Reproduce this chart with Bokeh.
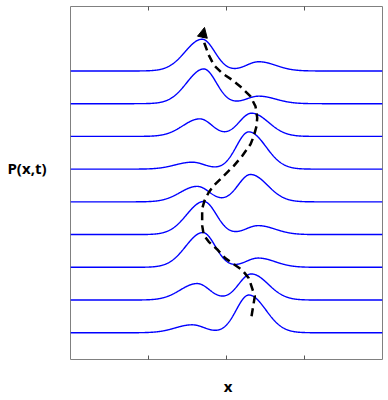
import numpy as np
from bokeh.plotting import figure
from bokeh.models import LinearAxis, FixedTicker, Range1d, Arrow, NormalHead
from bokeh.embed import file_html
from bokeh.resources import INLINE

# ---- data ----
# curves from bottom (earliest) to top (latest); vertical offset = index
time_offsets = [0, 1, 2, 3, 4, 5, 6, 7, 8]
left_center = [-0.44, -0.376, -0.304, -0.291, -0.376, -0.44, -0.342, -0.291, -0.312]
left_height = [0.242, 0.503, 1.061, 1.012, 0.473, 0.212, 0.536, 1.061, 0.970]
right_center = [0.286, 0.317, 0.406, 0.406, 0.308, 0.286, 0.321, 0.414, 0.414]
right_height = [1.152, 0.797, 0.282, 0.273, 0.836, 1.139, 0.709, 0.230, 0.282]
sigma_outer = 0.218
sigma_inner = 0.160

# dashed trajectory of the dominant peak
path_x = [0.321, 0.363, 0.286, 0.201, 0.094, -0.013, -0.119, -0.227, -0.291, -0.312,
          -0.312, -0.282, -0.227, -0.163, -0.035, 0.094, 0.201, 0.308, 0.350, 0.385,
          0.394, 0.372, 0.308, 0.201, 0.073, -0.055, -0.163, -0.227, -0.282, -0.299]
path_y = [0.506, 1.112, 1.667, 1.918, 2.091, 2.273, 2.545, 2.779, 2.979, 3.282,
          3.788, 4.039, 4.294, 4.494, 4.797, 5.100, 5.403, 5.758, 6.009, 6.312,
          6.567, 6.918, 7.221, 7.476, 7.727, 7.930, 8.182, 8.485, 8.839, 9.142]
arrow_tip = (-0.282, 9.33)

x_ticks = [-1, 0, 1]
x_label_pos = 0.02
y_label_pos = 5.03
x_label = "x"
y_label = "P(x,t)"

# ---- figure ----
p = figure(width=386, height=398, output_backend="svg", toolbar_location=None,
           x_range=Range1d(-2, 2), y_range=Range1d(-0.818, 9.97),
           x_axis_location=None, y_axis_location=None,
           min_border_left=70, min_border_right=4,
           min_border_top=6, min_border_bottom=36)
p.grid.visible = False
p.outline_line_color = "#808080"
p.outline_line_width = 1
p.background_fill_color = "white"
p.border_fill_color = "white"


def tick_axis(ticks, minor, labels):
    ax = LinearAxis(ticker=FixedTicker(ticks=ticks, minor_ticks=minor))
    ax.minor_tick_in = 4
    ax.minor_tick_out = 0
    ax.minor_tick_line_color = "#555555"
    ax.major_tick_in = 0
    ax.major_tick_out = 0
    ax.axis_line_color = None
    ax.major_label_overrides = labels
    ax.major_label_text_font = "Open Sans"
    ax.major_label_text_font_style = "bold"
    ax.major_label_text_font_size = "15px"
    ax.major_label_text_color = "black"
    ax.major_label_standoff = 0
    return ax

bottom = tick_axis([x_label_pos], x_ticks, {x_label_pos: x_label})
bottom.major_label_standoff = 16
p.add_layout(bottom, "below")

top = tick_axis([], x_ticks, {})
p.add_layout(top, "above")

left = tick_axis([y_label_pos], [], {y_label_pos: y_label})
left.major_label_standoff = 24
left.major_label_orientation = "horizontal"
p.add_layout(left, "left")

xs = np.linspace(-2, 2, 801)


def peak(x, c, h, side):
    # side=-1: left peak (outer side is left), side=+1: right peak
    d = x - c
    outer = (d * side) > 0
    s = np.where(outer, sigma_outer, sigma_inner)
    return h * np.exp(-d**2 / (2 * s**2))

for k in range(len(time_offsets)):
    ys = (time_offsets[k]
          + peak(xs, left_center[k], left_height[k], -1)
          + peak(xs, right_center[k], right_height[k], 1))
    p.line(xs, ys, line_color="#0000FF", line_width=1.4)

p.line(path_x, path_y, line_color="black", line_width=2.5, line_dash="8 5")
p.add_layout(Arrow(end=NormalHead(size=10, fill_color="black", line_color="black"),
                   x_start=path_x[-1], y_start=path_y[-1],
                   x_end=arrow_tip[0], y_end=arrow_tip[1],
                   line_color="black", line_width=2.5))

open("out.html", "w").write(file_html(p, INLINE))
